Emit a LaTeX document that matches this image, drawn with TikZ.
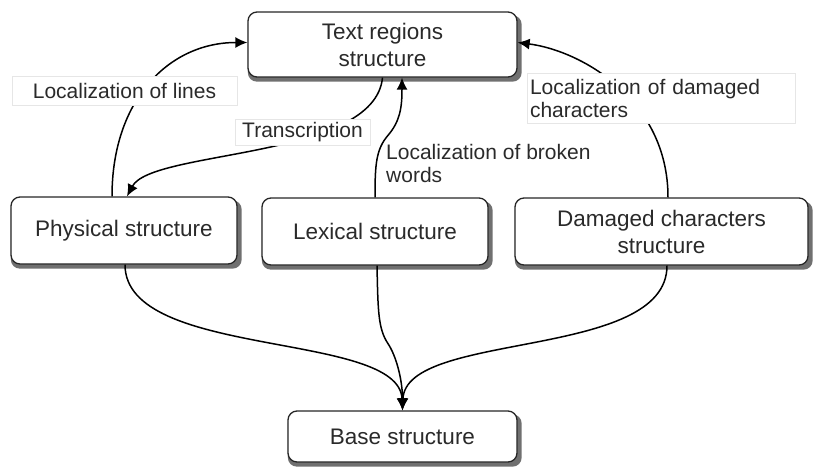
\documentclass[tikz,border=0pt]{standalone}
\usepackage{fontspec}
\setmainfont{Liberation Sans}
\usetikzlibrary{arrows.meta,backgrounds}
\definecolor{txt}{HTML}{2A2A2A}
\definecolor{shadowgray}{HTML}{707070}
\definecolor{lblborder}{HTML}{E6E6E6}
\tikzset{
  box/.style={draw=black!85, line width=1.3pt, rounded corners=9pt, fill=white,
    text=txt, align=center, inner sep=0pt,
    font=\fontsize{22.5}{27}\selectfont},
  boxshadow/.style={fill=shadowgray, rounded corners=9pt},
  conn/.style={line width=1.5pt, black, -{Latex[length=12pt,width=11pt]}},
  lbl/.style={draw=lblborder, line width=0.6pt, fill=white, text=txt,
    font=\fontsize{21}{23}\selectfont, inner sep=0pt},
  freelbl/.style={text=txt, font=\fontsize{21}{23}\selectfont, inner sep=0pt, align=left}
}
\begin{document}
\begin{tikzpicture}[x=1pt,y=-1pt]
\useasboundingbox (0,0) rectangle (814,466);
% nodes
\node[box, minimum width=269pt, minimum height=65pt] (tr) at (382.5,44.5) {Text regions\\structure};
\node[box, minimum width=226pt, minimum height=67pt] (phys) at (124,230.5) {Physical structure};
\node[box, minimum width=226pt, minimum height=67pt] (lex) at (375,231.5) {Lexical structure};
\node[box, minimum width=293pt, minimum height=67pt] (dam) at (661.5,231.5) {Damaged characters\\structure};
\node[box, minimum width=229pt, minimum height=51pt] (base) at (402.5,436.5) {Base structure};
\begin{scope}[on background layer]
\foreach \n in {tr,phys,lex,dam,base}
  \fill[boxshadow] ([shift={(0.5,4)}]\n.north west) rectangle ([shift={(4,4)}]\n.south east);
\end{scope}
% upper connectors
\draw[conn] ([xshift=-12pt]phys.north) .. controls +(0,-97) and +(-78,0) .. ([yshift=2pt]tr.west);
\draw[conn] (tr.south) .. controls +(-8,82) and +(25,-47) .. ([xshift=3pt]phys.north);
\draw[conn] (lex.north) .. controls +(0,-33) and +(-12,14) .. ++(13,-62)
   .. controls +(12,-14) and +(0,30) .. ([xshift=19.5pt]tr.south);
\draw[conn] ([xshift=6.5pt]dam.north) .. controls +(0,-98) and +(63,8) .. ([yshift=2pt]tr.east);
% lower connectors
\draw[conn] ([xshift=1pt]phys.south) .. controls +(0,95) and +(-3,-80) .. (base.north);
\draw[conn] ([xshift=2pt]lex.south) .. controls +(1,45) and +(-10,-15) .. ++(11,78)
   .. controls +(8,12) and +(0,-31) .. (base.north);
\draw[conn] ([xshift=5.5pt]dam.south) .. controls +(0,95) and +(3,-80) .. (base.north);
% labels
\node[lbl, minimum width=225pt, minimum height=29pt] (l1) at (124.5,90.5) {Localization of lines};
\node[lbl, minimum width=135pt, minimum height=26pt] (l2) at (302.5,132) {Transcription};
\node[freelbl, anchor=west] (l3) at (386,163) {Localization of broken\\words};
\node[lbl, text width=262pt, inner xsep=3pt, minimum height=50pt, align=left] (l4) at (661,98) {Localization of damaged\\characters};
\end{tikzpicture}
\end{document}
